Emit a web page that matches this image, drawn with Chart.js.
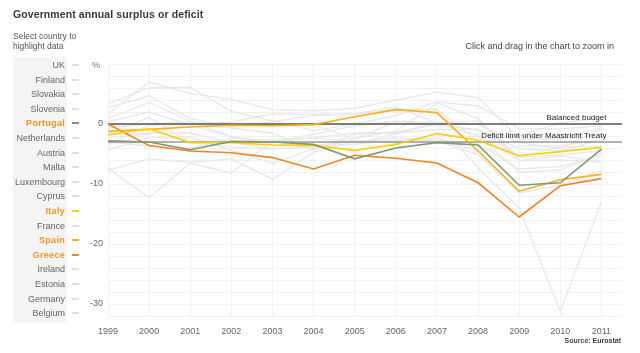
<!DOCTYPE html>
<html>
<head>
<meta charset="utf-8">
<script src="https://cdn.jsdelivr.net/npm/chart.js@4.4.0/dist/chart.umd.min.js"></script>
<style>
  body { margin: 0; background: #fff; font-family: "Liberation Sans", Arial, sans-serif; }
  #wrap { position: relative; width: 640px; height: 353px; overflow: hidden; }
  #chart { position: absolute; left: 0; top: 0; }
  .txt { position: absolute; white-space: nowrap; }
  #title { left: 13px; top: 8px; font-size: 10.5px; font-weight: bold; color: #3a3a3a; letter-spacing: 0.1px; }
  #select { left: 13px; top: 31px; font-size: 8.5px; color: #555; line-height: 10px; }
  #zoomhint { right: 26px; top: 41px; font-size: 9px; color: #444; }
  #source { right: 19px; top: 337px; font-size: 7px; font-weight: bold; color: #444; }
  #pct { left: 92px; top: 60px; font-size: 9px; color: #777; }
  #panel { position: absolute; left: 13px; top: 57px; width: 54px; height: 266px; background: #f4f4f4; }
  .item { position: absolute; right: 575px; font-size: 9px; color: #666; line-height: 10px; }
  .item.on { color: #f7941d; font-weight: bold; letter-spacing: 0.3px; }
  .dash { position: absolute; left: 72px; width: 7px; height: 2px; background: #ddd; }
</style>
</head>
<body>
<div id="wrap">
  <div id="panel"></div>
  <canvas id="chart" width="640" height="353"></canvas>
  <div class="txt" id="title">Government annual surplus or deficit</div>
  <div class="txt" id="select">Select country to<br>highlight data</div>
  <div class="txt" id="zoomhint">Click and drag in the chart to zoom in</div>
  <div class="txt" id="pct">%</div>
  <div class="txt" id="source">Source: Eurostat</div>
  <div id="legend"></div>
</div>
<script>
// Years on the x axis
const years = [1999, 2000, 2001, 2002, 2003, 2004, 2005, 2006, 2007, 2008, 2009, 2010, 2011];

// Order of the country list on the left
const countries = ["UK", "Finland", "Slovakia", "Slovenia", "Portugal", "Netherlands", "Austria", "Malta",
  "Luxembourg", "Cyprus", "Italy", "France", "Spain", "Greece", "Ireland", "Estonia", "Germany", "Belgium"];

// Surplus / deficit, % of GDP
const uk          = [0.9, 3.6, 0.5, -2.1, -3.4, -3.5, -3.4, -2.7, -2.8, -5.1, -11.5, -10.2, -7.8];
const finland     = [1.7, 7.0, 5.1, 4.1, 2.4, 2.2, 2.6, 4.0, 5.3, 4.4, -2.5, -2.5, -0.6];
const slovakia    = [-7.4, -12.3, -6.5, -8.2, -2.8, -2.4, -2.8, -3.2, -1.8, -2.1, -8.0, -7.7, -4.9];
const slovenia    = [-3.0, -3.7, -4.0, -2.4, -2.7, -2.3, -1.5, -1.4, 0.0, -1.9, -6.1, -6.0, -6.4];
const portugal    = [-2.8, -3.0, -4.3, -2.9, -3.0, -3.4, -5.8, -4.0, -3.1, -3.5, -10.2, -9.8, -4.2];
const netherlands = [0.4, 2.0, -0.2, -2.1, -3.1, -1.7, -0.3, 0.5, 0.2, 0.5, -5.6, -5.1, -4.5];
const austria     = [-2.3, -1.7, 0.0, -0.7, -1.5, -4.4, -1.7, -1.5, -0.9, -0.9, -4.1, -4.5, -2.6];
const malta       = [-7.7, -5.8, -6.4, -5.8, -9.2, -4.7, -2.9, -2.8, -2.3, -4.6, -3.7, -3.6, -2.7];
const luxembourg  = [3.4, 6.0, 6.1, 2.1, 0.5, -1.1, 0.0, 1.4, 3.7, 3.0, -0.8, -0.8, -0.3];
const cyprus      = [-4.3, -2.3, -2.2, -4.4, -6.6, -4.1, -2.4, -1.2, 3.5, 0.9, -6.1, -5.3, -6.3];
const italy       = [-1.8, -0.8, -3.1, -3.1, -3.5, -3.6, -4.4, -3.4, -1.6, -2.7, -5.3, -4.6, -3.9];
const france      = [-1.8, -1.5, -1.5, -3.1, -4.1, -3.6, -2.9, -2.3, -2.7, -3.3, -7.5, -7.1, -5.2];
const spain       = [-1.2, -0.9, -0.5, -0.2, -0.3, -0.1, 1.2, 2.4, 1.9, -4.5, -11.2, -9.3, -8.4];
const greece      = [0.0, -3.6, -4.5, -4.8, -5.6, -7.5, -5.2, -5.7, -6.5, -9.8, -15.5, -10.3, -9.1];
const ireland     = [2.7, 4.7, 0.9, -0.4, 0.4, 1.4, 1.7, 2.9, 0.1, -7.3, -14.0, -31.2, -13.0];
const estonia     = [-3.5, -0.2, -0.1, 0.3, 1.7, 1.6, 1.6, 2.5, 2.4, -2.9, -2.0, 0.2, 1.0];
const germany     = [-1.6, 1.1, -3.1, -3.8, -4.2, -3.8, -3.3, -1.6, 0.2, -0.1, -3.1, -4.1, -0.8];
const belgium     = [-0.6, 0.0, 0.4, -0.1, -0.1, -0.1, -2.5, 0.4, -0.1, -1.0, -5.5, -3.8, -3.7];

const seriesByCountry = {
  UK: uk, Finland: finland, Slovakia: slovakia, Slovenia: slovenia, Portugal: portugal,
  Netherlands: netherlands, Austria: austria, Malta: malta, Luxembourg: luxembourg, Cyprus: cyprus,
  Italy: italy, France: france, Spain: spain, Greece: greece, Ireland: ireland, Estonia: estonia,
  Germany: germany, Belgium: belgium
};

// highlighted countries and their line colours
const highlight = { Portugal: "#7d9a74", Italy: "#f8d300", Spain: "#fbad1a", Greece: "#f58220" };

// reference lines
const balancedValue = 0;
const maastrichtValue = -3;
const refLabels = ["Balanced budget", "Deficit limit under Maastricht Treaty"];

const yLabels = [0, -10, -20, -30];
const yRange = { min: -32, max: 10, step: 2 };
const xRange = { min: 1999, max: 2011.5 };

// Legend list (HTML)
const legend = document.getElementById("legend");
countries.forEach((name, i) => {
  const y = 60 + i * 14.6;
  const lab = document.createElement("div");
  lab.className = "item" + (highlight[name] ? " on" : "");
  lab.style.top = y + "px";
  lab.textContent = name;
  legend.appendChild(lab);
  const d = document.createElement("div");
  d.className = "dash";
  d.style.top = (y + 4) + "px";
  if (highlight[name]) d.style.background = highlight[name];
  legend.appendChild(d);
});

const toPoints = arr => arr.map((v, i) => ({ x: years[i], y: v }));

const datasets = [];
countries.forEach(name => {
  const col = highlight[name];
  datasets.push({
    label: name,
    data: toPoints(seriesByCountry[name]),
    borderColor: col || "#e8e8e8",
    borderWidth: col ? 1.6 : 1.3,
    pointRadius: 0,
    tension: 0,
    order: col ? 1 : 3
  });
});
datasets.push({
  label: refLabels[0],
  data: [{ x: xRange.min, y: balancedValue }, { x: xRange.max, y: balancedValue }],
  borderColor: "#555", borderWidth: 1.3, pointRadius: 0, order: 2
});
datasets.push({
  label: refLabels[1],
  data: [{ x: xRange.min, y: maastrichtValue }, { x: xRange.max, y: maastrichtValue }],
  borderColor: "#666", borderWidth: 1.2, pointRadius: 0, order: 2
});

// labels for the reference lines
const refLabelPlugin = {
  id: "refLabels",
  afterDatasetsDraw(chart) {
    const { ctx, scales: { x, y } } = chart;
    ctx.save();
    ctx.font = "8px 'Liberation Sans', Arial, sans-serif";
    ctx.fillStyle = "#222";
    ctx.textAlign = "right";
    ctx.textBaseline = "bottom";
    const xr = x.getPixelForValue(2011) + 5;
    ctx.fillText(refLabels[0], xr, y.getPixelForValue(balancedValue) - 2);
    ctx.fillText(refLabels[1], xr, y.getPixelForValue(maastrichtValue) - 2);
    ctx.restore();
  }
};

new Chart(document.getElementById("chart"), {
  type: "line",
  data: { datasets },
  plugins: [refLabelPlugin],
  options: {
    responsive: false,
    animation: false,
    layout: { padding: { top: 64, right: 18, left: 0, bottom: 0 } },
    plugins: { legend: { display: false }, tooltip: { enabled: false } },
    scales: {
      x: {
        type: "linear",
        min: xRange.min,
        max: xRange.max,
        afterBuildTicks: s => { s.ticks = years.map(v => ({ value: v })); },
        afterFit: s => { s.height = 37; },
        border: { display: false },
        grid: { color: "#f2f2f2", drawTicks: false, lineWidth: 1 },
        ticks: {
          padding: 10,
          color: "#666",
          font: { size: 9, family: "'Liberation Sans', Arial, sans-serif" },
          maxRotation: 0,
          autoSkip: false,
          callback: v => String(v)
        }
      },
      y: {
        min: yRange.min,
        max: yRange.max,
        afterFit: s => { s.width = 108; },
        border: { display: false },
        grid: { color: "#f2f2f2", drawTicks: false, lineWidth: 1 },
        ticks: {
          stepSize: yRange.step,
          padding: 5,
          color: "#666",
          font: { size: 9, family: "'Liberation Sans', Arial, sans-serif" },
          autoSkip: false,
          callback: v => yLabels.includes(v) ? String(v) : ""
        }
      }
    }
  }
});
</script>
</body>
</html>
